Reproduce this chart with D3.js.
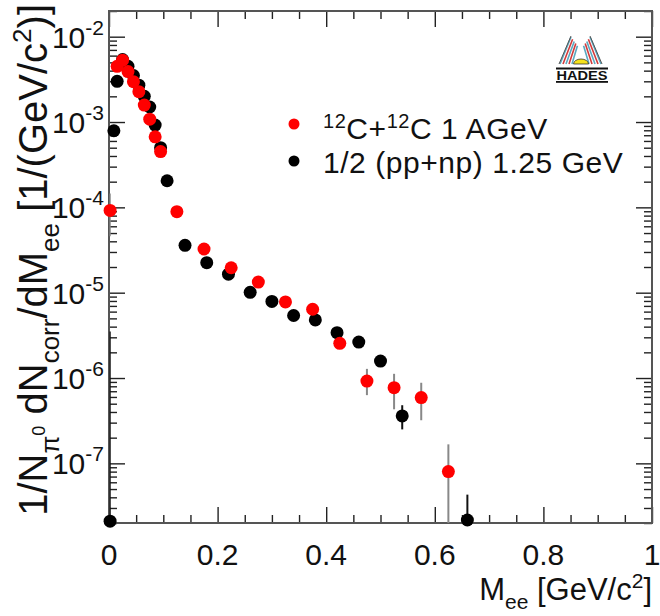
<!DOCTYPE html>
<html>
<head>
<meta charset="utf-8">
<script src="https://cdn.jsdelivr.net/npm/d3@7"></script>
<style>
  body { margin: 0; background: #fff; }
  svg { display: block; font-family: "Liberation Sans", Arial, Helvetica, sans-serif; }
</style>
</head>
<body>
<svg id="chart" width="660" height="616"></svg>
<script>
// Dielectron invariant-mass spectra normalised to the pi0 yield

// 12C+12C at 1 AGeV
const ccMass  = [0.002, 0.015, 0.025, 0.035, 0.045, 0.055, 0.065, 0.075, 0.085, 0.095,
                 0.125, 0.175, 0.225, 0.275, 0.325, 0.375, 0.425, 0.475, 0.525, 0.575, 0.625];
const ccYield = [9.2e-5, 4.5e-3, 5.3e-3, 3.9e-3, 2.97e-3, 2.27e-3, 1.58e-3, 1.08e-3, 6.7e-4, 4.5e-4,
                 8.9e-5, 3.25e-5, 1.96e-5, 1.33e-5, 7.8e-6, 6.4e-6, 2.55e-6, 9.2e-7, 7.7e-7, 5.9e-7, 8.0e-8];
const ccErrLow  = [4.6e-5, null, null, null, null, null, null, null, null, null,
                   null, null, null, null, null, null, 2.2e-6, 6.3e-7, 4.3e-7, 3.2e-7, 1e-9];
const ccErrHigh = [1.45e-4, null, null, null, null, null, null, null, null, null,
                   null, null, null, null, null, null, 2.95e-6, 1.28e-6, 1.12e-6, 8.8e-7, 1.67e-7];

// 1/2 (pp+np) at 1.25 GeV
const npMass  = [0.002, 0.009, 0.015, 0.025, 0.035, 0.045, 0.055, 0.065, 0.075, 0.085, 0.095, 0.107,
                 0.14, 0.18, 0.22, 0.26, 0.30, 0.34, 0.38, 0.42, 0.46, 0.50, 0.54, 0.66];
const npYield = [2.1e-8, 7.9e-4, 3.0e-3, 5.4e-3, 4.5e-3, 3.5e-3, 2.7e-3, 2.0e-3, 1.5e-3, 9.2e-4, 5.0e-4, 2.05e-4,
                 3.59e-5, 2.25e-5, 1.65e-5, 1.01e-5, 7.9e-6, 5.4e-6, 4.8e-6, 3.4e-6, 2.64e-6, 1.58e-6, 3.6e-7, 2.17e-8];
const npErrLow  = [1e-9, null, null, null, null, null, null, null, null, null, null, null,
                   null, null, null, null, null, null, null, null, null, null, 2.5e-7, 1e-9];
const npErrHigh = [3.5e-6, null, null, null, null, null, null, null, null, null, null, null,
                   null, null, null, null, null, null, null, null, null, null, 4.8e-7, 4.3e-8];

const xTickValues = [0, 0.2, 0.4, 0.6, 0.8, 1];
const xTickLabels = ["0", "0.2", "0.4", "0.6", "0.8", "1"];
const yDecades = [-2, -3, -4, -5, -6, -7];

const legendLabels = [["12", "C+", "12", "C 1 AGeV"], ["1/2 (pp+np) 1.25 GeV"]];

const svg = d3.select("#chart");
const L = 109, R = 652, T = 11, B = 523;

const x = d3.scaleLinear().domain([0, 1]).range([L, R]);
const y = d3.scaleLog().domain([2e-8, 2e-2]).range([B, T]);

// ---- axes (ticks point inward on all four sides) ----
const xMinor = d3.range(0, 1.0001, 0.05).filter(v => Math.abs(v / 0.2 - Math.round(v / 0.2)) > 1e-6);
const yAll = y.ticks();
const isDecade = v => Math.abs(Math.log10(v) - Math.round(Math.log10(v))) < 1e-6;
const yMinor = yAll.filter(v => !isDecade(v));
const yMajor = yDecades.map(d => Math.pow(10, d));

function styleAxis(g) {
  g.select(".domain").remove();
  g.selectAll(".tick line").attr("stroke", "#222").attr("stroke-width", 1.4);
  g.selectAll("text").remove();
}
svg.append("g").attr("transform", `translate(0,${B})`)
  .call(d3.axisBottom(x).tickValues(xMinor).tickSize(-8)).call(styleAxis);
svg.append("g").attr("transform", `translate(0,${B})`)
  .call(d3.axisBottom(x).tickValues(xTickValues).tickSize(-16)).call(styleAxis);
svg.append("g").attr("transform", `translate(0,${T})`)
  .call(d3.axisTop(x).tickValues(xMinor).tickSize(-8)).call(styleAxis);
svg.append("g").attr("transform", `translate(0,${T})`)
  .call(d3.axisTop(x).tickValues(xTickValues).tickSize(-16)).call(styleAxis);
svg.append("g").attr("transform", `translate(${L},0)`)
  .call(d3.axisLeft(y).tickValues(yMinor).tickSize(-8)).call(styleAxis);
svg.append("g").attr("transform", `translate(${L},0)`)
  .call(d3.axisLeft(y).tickValues(yMajor).tickSize(-16)).call(styleAxis);
svg.append("g").attr("transform", `translate(${R},0)`)
  .call(d3.axisRight(y).tickValues(yMinor).tickSize(-8)).call(styleAxis);
svg.append("g").attr("transform", `translate(${R},0)`)
  .call(d3.axisRight(y).tickValues(yMajor).tickSize(-16)).call(styleAxis);

// frame
svg.append("rect")
  .attr("x", L).attr("y", T).attr("width", R - L).attr("height", B - T)
  .attr("fill", "none").attr("stroke", "#555").attr("stroke-width", 2);

// tick labels
svg.append("g").selectAll("text").data(xTickValues).join("text")
  .attr("x", d => x(d)).attr("y", 565)
  .attr("text-anchor", "middle").attr("font-size", 30).attr("fill", "#111")
  .text((d, i) => xTickLabels[i]);

const yl = svg.append("g").selectAll("text").data(yDecades).join("text")
  .attr("x", 104).attr("y", d => y(Math.pow(10, d)) + 11)
  .attr("text-anchor", "end").attr("font-size", 30).attr("fill", "#111");
yl.append("tspan").text("10");
yl.append("tspan").attr("font-size", 21).attr("dy", -13).text(d => String(d));

// ---- axis titles ----
const xt = svg.append("text").attr("x", R).attr("y", 600)
  .attr("text-anchor", "end").attr("font-size", 31).attr("fill", "#111");
xt.append("tspan").text("M");
xt.append("tspan").attr("font-size", 21).attr("dy", 9).text("ee");
xt.append("tspan").attr("dy", -9).text(" [GeV/c");
xt.append("tspan").attr("font-size", 21).attr("dy", -12).text("2");
xt.append("tspan").attr("dy", 12).text("]");

const F = 40;
const yt = svg.append("text").attr("transform", "translate(47,4) rotate(-90)")
  .attr("text-anchor", "end").attr("font-size", F).attr("fill", "#111");
yt.append("tspan").text("1/N");
yt.append("tspan").attr("font-size", 0.65 * F).attr("dy", 0.3 * F).text("π");
yt.append("tspan").attr("font-size", 0.45 * F).attr("dy", -0.35 * F).text("0");
yt.append("tspan").attr("dy", 0.05 * F).text(" dN");
yt.append("tspan").attr("font-size", 0.65 * F).attr("dy", 0.3 * F).text("corr");
yt.append("tspan").attr("dy", -0.3 * F).text("/dM");
yt.append("tspan").attr("font-size", 0.65 * F).attr("dy", 0.3 * F).text("ee");
yt.append("tspan").attr("dy", -0.3 * F).text(" [1/(GeV/c");
yt.append("tspan").attr("font-size", 0.65 * F).attr("dy", -0.4 * F).text("2");
yt.append("tspan").attr("dy", 0.4 * F).text(")]");

// ---- data ----
svg.append("clipPath").attr("id", "plotArea")
  .append("rect").attr("x", L).attr("y", T).attr("width", R - L).attr("height", B - T);

function drawSeries(mass, yieldV, lo, hi, color, barColor) {
  const rows = mass.map((m, i) => ({ m, v: yieldV[i], lo: lo[i], hi: hi[i] }));
  svg.append("g").attr("clip-path", "url(#plotArea)")
    .selectAll("line").data(rows.filter(d => d.lo !== null)).join("line")
    .attr("x1", d => x(d.m)).attr("x2", d => x(d.m))
    .attr("y1", d => y(Math.max(d.lo, 1e-12))).attr("y2", d => y(d.hi))
    .attr("stroke", barColor).attr("stroke-width", d => d.m < 0.01 ? 1.3 : 2);
  svg.append("g").selectAll("circle").data(rows).join("circle")
    .attr("cx", d => x(d.m)).attr("cy", d => y(d.v)).attr("r", 6.5)
    .attr("fill", color);
}
drawSeries(npMass, npYield, npErrLow, npErrHigh, "#000", "#111");
drawSeries(ccMass, ccYield, ccErrLow, ccErrHigh, "#ff0000", "#888");

// ---- legend ----
const leg = svg.append("g");
[["#ff0000", 124, 139], ["#000", 161, 173]].forEach(([c, cy, by], i) => {
  leg.append("circle").attr("cx", 294).attr("cy", cy).attr("r", 5.5).attr("fill", c);
  const t = leg.append("text").attr("x", 323).attr("y", by).attr("font-size", 30)
    .attr("letter-spacing", 0.55).attr("fill", "#111");
  if (i === 0) {
    const p = legendLabels[0];
    t.append("tspan").attr("font-size", 20).attr("dy", -11).text(p[0]);
    t.append("tspan").attr("dy", 11).text(p[1]);
    t.append("tspan").attr("font-size", 20).attr("dy", -11).text(p[2]);
    t.append("tspan").attr("dy", 11).text(p[3]);
  } else {
    t.text(legendLabels[1][0]);
  }
});

// ---- HADES logo ----
const logo = svg.append("g").attr("transform", "translate(540,30)");
const wingColors = ["#5aa8c0", "#d23a3a", "#5aa8c0", "#d23a3a", "#5aa8c0"];
wingColors.forEach((c, i) => {
  logo.append("line").attr("x1", 20 + i * 3).attr("y1", 34).attr("x2", 31 + i * 1.6).attr("y2", 7 + i * 2.2)
    .attr("stroke", c).attr("stroke-width", 1.6);
  logo.append("line").attr("x1", 61 - i * 3).attr("y1", 34).attr("x2", 50 - i * 1.6).attr("y2", 7 + i * 2.2)
    .attr("stroke", c).attr("stroke-width", 1.6);
});
logo.append("path").attr("d", "M19,34 L31,6 M62,34 L50,6").attr("stroke", "#555").attr("stroke-width", 1).attr("fill", "none");
logo.append("path").attr("d", "M33.5,34 A7.5,5 0 0 1 48.5,34 Z").attr("fill", "#f4e21c").attr("stroke", "#333").attr("stroke-width", 0.8);
logo.append("rect").attr("x", 16).attr("y", 37.5).attr("width", 52).attr("height", 2).attr("fill", "#111");
logo.append("text").attr("x", 16.5).attr("y", 49.5).attr("font-size", 12).attr("font-weight", "bold")
  .attr("textLength", 51).attr("lengthAdjust", "spacingAndGlyphs").attr("fill", "#111").text("HADES");
logo.append("rect").attr("x", 16).attr("y", 51).attr("width", 52).attr("height", 1.8).attr("fill", "#111");
</script>
</body>
</html>
